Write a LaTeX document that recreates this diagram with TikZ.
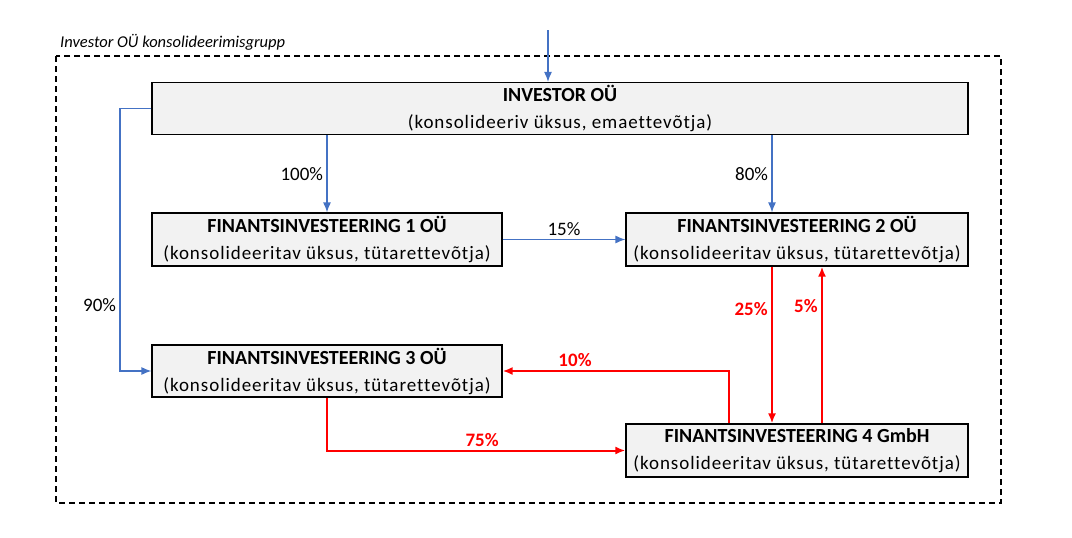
\documentclass[tikz,border=0pt]{standalone}
\usepackage{fontspec}
\setmainfont{Carlito}[Ligatures=CommonOff]
\newfontfamily\subfont{Carlito}[Ligatures=CommonOff, LetterSpace=5]
\usetikzlibrary{arrows.meta, positioning}
\definecolor{linkblue}{HTML}{4472C4}
\definecolor{boxgray}{HTML}{F2F2F2}
\newcommand*{\entity}[2]{{\fontsize{20}{27}\selectfont\bfseries #1}\\{\subfont #2}}

\begin{document}
\begin{tikzpicture}[x=1pt, y=-1pt,
  ent/.style={draw, line width=1.2pt, fill=boxgray, rectangle, minimum height=52pt, inner sep=0pt, align=center, font=\fontsize{19}{27}\selectfont},
  own/.style={linkblue, line width=1.2pt, -{Latex[length=10pt,width=8pt]}},
  cross/.style={red, line width=2pt, -{Latex[length=10pt,width=8pt]}},
  pct/.style={text=black, font=\fontsize{19}{22}\selectfont},
  xpct/.style={red, font=\bfseries\fontsize{19}{22}\selectfont}]
 \useasboundingbox (0,0) rectangle (1072,538);
 % group frame
 \draw[dash pattern=on 6pt off 4pt, line width=1.3pt] (56,56) rectangle (1001,503);
 \node[anchor=south west, inner sep=0pt, font=\itshape\fontsize{16.5}{18}\selectfont] (grp) at (60,51) {Investor OÜ konsolideerimisgrupp};
 % entities
 \node[ent, minimum width=816pt] (inv) at (560,108.5) {\entity{INVESTOR OÜ}{(konsolideeriv üksus, emaettevõtja)}};
 \node[ent, minimum width=350pt, minimum height=53pt] (fi1) at (327,239.5) {\entity{FINANTSINVESTEERING 1 OÜ}{(konsolideeritav üksus, tütarettevõtja)}};
 \node[ent, minimum width=342pt, minimum height=53pt] (fi2) at (797,239.5) {\entity{FINANTSINVESTEERING 2 OÜ}{(konsolideeritav üksus, tütarettevõtja)}};
 \node[ent, minimum width=350pt] (fi3) at (327,371) {\entity{FINANTSINVESTEERING 3 OÜ}{(konsolideeritav üksus, tütarettevõtja)}};
 \node[ent, minimum width=342pt, minimum height=53pt] (fi4) at (797,450.5) {\entity{FINANTSINVESTEERING 4 GmbH}{(konsolideeritav üksus, tütarettevõtja)}};
 % helper columns
 \coordinate (top) at (548,30);
 \coordinate (c90) at (120,0);
 \coordinate (c80) at (772,0);
 \coordinate (c10) at (729,0);
 \coordinate (c5) at (822,0);
 % parent holdings
 \draw[own] (top) -- (top |- inv.north);
 \draw[own] (inv.south -| fi1.north) -- (fi1.north) node[pct, midway, left] {100\%};
 \draw[own] (inv.south -| c80) -- (fi2.north -| c80) node[pct, midway, left] {80\%};
 \draw[own] (fi1.east) -- (fi2.west) node[pct, midway, above] {15\%};
 \draw[own] (inv.west) -- (inv.west -| c90) -- (fi3.west -| c90) node[pct, pos=0.75, left] {90\%} -- (fi3.west);
 % cross holdings
 \draw[cross] (fi2.south -| c80) -- (fi4.north -| c80) node[xpct, pos=0.27, left] {25\%};
 \draw[cross] (fi4.north -| c5) -- (fi2.south -| c5) node[xpct, pos=0.75, left] {5\%};
 \draw[cross] (fi4.north -| c10) |- (fi3.east) node[xpct, pos=0.84, above] {10\%};
 \draw[cross] (fi3.south) |- (fi4.west) node[xpct, pos=0.76, above] {75\%};
\end{tikzpicture}
\end{document}
